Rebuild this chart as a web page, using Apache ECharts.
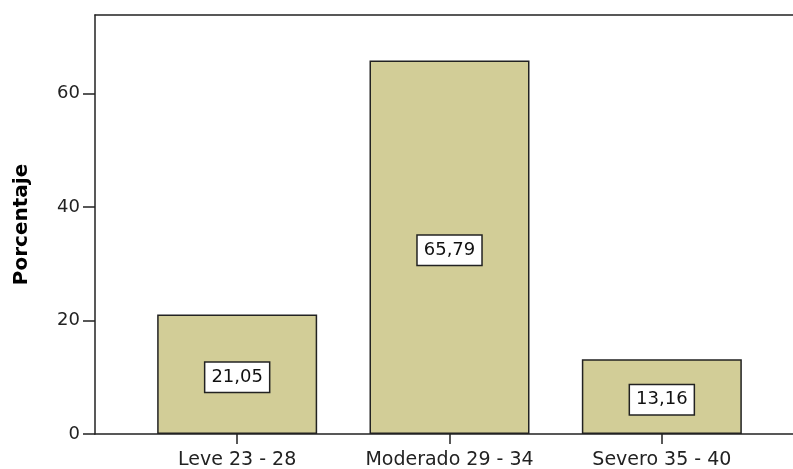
<!DOCTYPE html>
<html>
<head>
<meta charset="utf-8">
<script src="https://cdn.jsdelivr.net/npm/echarts@6/dist/echarts.min.js"></script>
<style>
html,body{margin:0;padding:0;background:#fff;}
#chart{width:793px;height:469px;}
</style>
</head>
<body>
<div id="chart"></div>
<script>
const categories = ['Leve 23 - 28', 'Moderado 29 - 34', 'Severo 35 - 40'];
const percentages = [21.05, 65.79, 13.16];
const yTicks = [0, 20, 40, 60];
const yMax = 73.8;

const FONT = 'DejaVu Sans';
const chart = echarts.init(document.getElementById('chart'));
chart.setOption({
  animation: false,
  backgroundColor: '#ffffff',
  grid: [
    { left: 95, right: 0, top: 15, bottom: 35, containLabel: false, outerBoundsMode: 'none' },
    { left: 131, right: 25, top: 15, bottom: 35, containLabel: false, outerBoundsMode: 'none' }
  ],
  xAxis: [
    { gridIndex: 0, type: 'value', min: 0, max: 1, position: 'bottom',
      axisLine: { show: true, lineStyle: { color: '#222', width: 1.5 } },
      axisTick: { show: false }, axisLabel: { show: false }, splitLine: { show: false } },
    { gridIndex: 0, type: 'value', min: 0, max: 1, position: 'top',
      axisLine: { show: true, lineStyle: { color: '#222', width: 1.5 } },
      axisTick: { show: false }, axisLabel: { show: false }, splitLine: { show: false } },
    { gridIndex: 1, type: 'category', data: categories, position: 'bottom',
      axisLine: { show: false },
      axisTick: { show: true, alignWithLabel: true, length: 10, lineStyle: { color: '#222', width: 1.5 } },
      axisLabel: { interval: 0, fontFamily: FONT, fontSize: 19, color: '#222', margin: 17 } }
  ],
  yAxis: [
    { gridIndex: 0, type: 'value', min: 0, max: yMax, interval: 20,
      name: 'Porcentaje', nameLocation: 'middle', nameGap: 63,
      nameTextStyle: { fontFamily: FONT, fontSize: 20, fontWeight: 'bold', color: '#000' },
      axisLine: { show: true, lineStyle: { color: '#222', width: 1.5 } },
      axisTick: { show: true, length: 12, lineStyle: { color: '#222', width: 1.5 } },
      axisLabel: { fontFamily: FONT, fontSize: 18, color: '#222', margin: 15,
        showMaxLabel: false,
        formatter: v => yTicks.indexOf(v) >= 0 ? String(v) : '' },
      splitLine: { show: false } },
    { gridIndex: 1, type: 'value', min: 0, max: yMax, show: false, splitLine: { show: false } }
  ],
  series: [{
    type: 'bar',
    xAxisIndex: 2,
    yAxisIndex: 1,
    data: percentages,
    barWidth: 160,
    itemStyle: { color: '#d2cd97', borderColor: '#222', borderWidth: 1.5 },
    label: {
      show: true, position: 'inside', offset: [0, 3],
      formatter: p => p.value.toFixed(2).replace('.', ','),
      fontFamily: FONT, fontSize: 18, color: '#111',
      backgroundColor: '#fff', borderColor: '#222', borderWidth: 1.5,
      padding: [6, 6, 5, 6]
    }
  }]
});
</script>
</body>
</html>
